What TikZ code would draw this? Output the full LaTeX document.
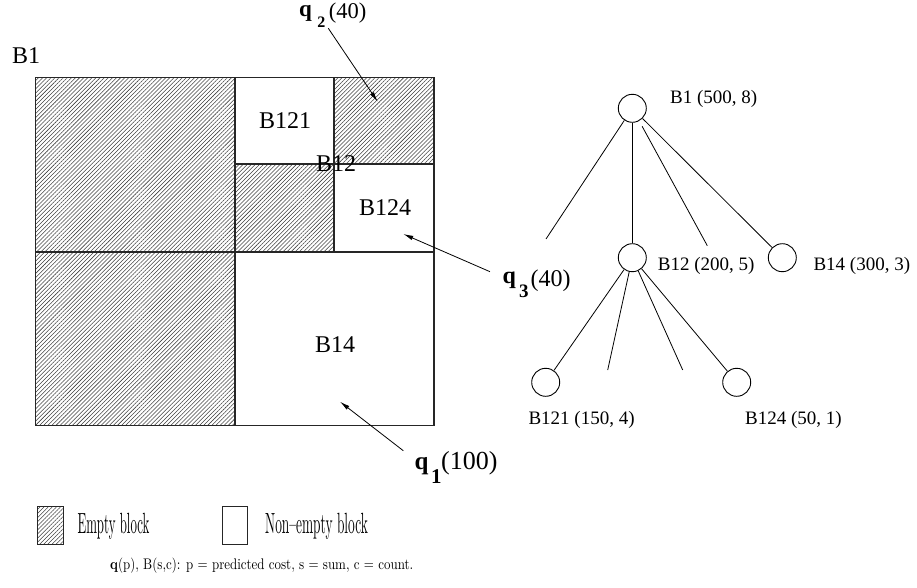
\documentclass[tikz,border=0pt]{standalone}
\usepackage{fontspec}
\newfontfamily\tms{Liberation Serif}
\usetikzlibrary{patterns.meta,arrows.meta}
\begin{document}
\begin{tikzpicture}[x=1pt,y=-1pt,
  hatch/.style={draw=black!85, line width=1.1pt, pattern={Lines[angle=45,distance=2.9pt,line width=0.55pt]}, pattern color=black!75},
  plain/.style={draw=black!85, line width=1.1pt, fill=white},
  lab/.style={font=\tms\fontsize{24}{24}\selectfont, inner sep=0pt, anchor=base west},
  tlab/.style={font=\tms\fontsize{19}{19}\selectfont, inner sep=0pt, anchor=base west},
  qlab/.style={font=\tms, inner sep=0pt, anchor=base west},
  tn/.style={circle, draw, line width=0.9pt, minimum size=28pt, inner sep=0pt},
  edge/.style={line width=0.8pt},
  qarrow/.style={line width=0.8pt, -{Latex[length=10pt,width=4.5pt]}},
  legtext/.style={inner sep=0pt, anchor=base west},
  ]
\useasboundingbox (0,0) rectangle (917,588);

% partition of B1
\path[hatch] (35.5,77.5) rectangle (235,252);
\path[hatch] (35.5,252) rectangle (235,425.5);
\path[plain] (235,77.5) rectangle (334,164);
\path[hatch] (334,77.5) rectangle (434,164);
\path[hatch] (235,164) rectangle (334,252);
\path[plain] (334,164) rectangle (434,252);
\path[plain] (235,252) rectangle (434,425.5);

\node[lab] (tB1) at (12,64) {B1};
\node[lab] (tB121) at (259,128.3) {B121};
\node[lab] (tB12) at (316,171.7) {B12};
\node[lab] (tB124) at (359,215) {B124};
\node[lab] (tB14) at (315,352.7) {B14};

% query labels and arrows
\node[qlab] (q2) at (299,18.5) {\raisebox{2pt}{\bfseries\fontsize{23}{23}\selectfont q}\hspace{5.5pt}\raisebox{-9.5pt}{\bfseries\fontsize{16}{16}\selectfont 2}\hspace{3.5pt}{\fontsize{22.5}{22.5}\selectfont (40)}};
\node[qlab] (q3) at (502.5,286.5) {\raisebox{3.5pt}{\bfseries\fontsize{24}{24}\selectfont q}\hspace{3pt}\raisebox{-10.5pt}{\bfseries\fontsize{19}{19}\selectfont 3}\hspace{2pt}{\fontsize{24}{24}\selectfont (40)}};
\node[qlab] (q1) at (414.5,469) {{\bfseries\fontsize{25}{25}\selectfont q}\hspace{2.5pt}\raisebox{-14pt}{\bfseries\fontsize{21}{21}\selectfont 1}\hspace{-0.5pt}{\fontsize{26}{26}\selectfont (100)}};

\coordinate (a2s) at (328.3,28.3);
\coordinate (a2e) at (377.7,101.7);
\coordinate (a3s) at (490,271.7);
\coordinate (a3e) at (403.3,234);
\coordinate (a1s) at (403.3,450.7);
\coordinate (a1e) at (340,401.7);
\draw[qarrow] (a2s) -- (a2e);
\draw[qarrow] (a3s) -- (a3e);
\draw[qarrow] (a1s) -- (a1e);

% tree
\node[tn] (n1) at (632.3,108.3) {};
\node[tn] (n12) at (632.3,257.7) {};
\node[tn] (n14) at (782.3,257.7) {};
\node[tn] (n121) at (545.7,382.3) {};
\node[tn] (n124) at (736.7,382.3) {};
\coordinate (f1) at (546,239);
\coordinate (f3) at (707.3,245.7);
\coordinate (g2) at (607.7,370);
\coordinate (g3) at (682.7,370);
\draw[edge] (n1) -- (f1);
\draw[edge] (n1) -- (n12);
\draw[edge, shorten <=6pt] (n1) -- (f3);
\draw[edge] (n1) -- (n14);
\draw[edge] (n12) -- (n121);
\draw[edge] (n12) -- (g2);
\draw[edge] (n12) -- (g3);
\draw[edge] (n12) -- (n124);

\node[tlab] (l1) at (670,103.3) {B1 (500, 8)};
\node[tlab] (l12) at (657.7,270) {B12 (200, 5)};
\node[tlab] (l14) at (813.3,270) {B14 (300, 3)};
\node[tlab] (l121) at (528.3,424) {B121 (150, 4)};
\node[tlab] (l124) at (745,424) {B124 (50, 1)};

% legend
\path[hatch, line width=1pt] (37.7,506.7) rectangle (63.3,544.3);
\path[plain, line width=1pt] (222.3,506.7) rectangle (247,544.3);
\node[legtext] (e1) at (77.3,533.6) {\resizebox{72pt}{20.3pt}{Empty block}};
\node[legtext] (e2) at (265,533.6) {\resizebox{102.7pt}{20.3pt}{Non--empty block}};
\node[legtext] (cap) at (110,569) {\resizebox{303pt}{11.5pt}{\textbf{q}(p), B(s,c): p = predicted cost, s = sum, c = count.}};
\end{tikzpicture}
\end{document}
